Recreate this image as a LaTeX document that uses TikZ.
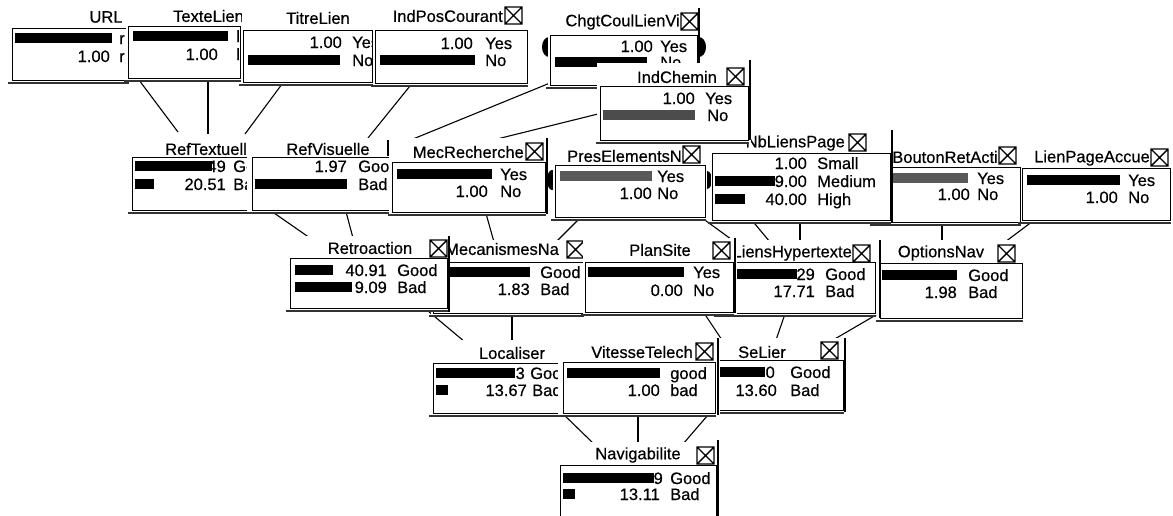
\documentclass[tikz,border=0pt]{standalone}
\usepackage{fontspec}
\setmainfont{Liberation Sans}
\newfontfamily\scanfont{Liberation Sans}[FakeBold=0.5]
\usetikzlibrary{calc}
\pgfdeclarelayer{bg}
\pgfsetlayers{bg,main}
\newcounter{tn}
\tikzset{
  bx/.style={draw, fill=white, line width=0.9pt, inner sep=0pt, outer sep=0pt},
  txt/.style={inner sep=0pt, font=\scanfont\fontsize{16.5}{18}\selectfont},
  edge/.style={line width=1.1pt},
  icon/.style={line width=1.4pt},
  shd/.style={line width=1.2pt, black!80},
  rln/.style={line width=1.1pt},
}
% name rx1 rx2 rtop bx1 bx2 btop bot
\newcommand\qbn[8]{%
  \fill[white] (#2,#4) rectangle (#3,#8+2);
  \draw[shd] (#5-4,#8+3) -- (#6+1,#8+3);
  \node[bx, minimum width=#6-#5, minimum height=#8-#7, anchor=north west] (#1) at (#5,#7) {};
}
\newcommand\qpb[4][black]{\fill[#1] (#2,#4-5) rectangle (#3,#4+5);}
\newcommand\qnm[3]{\stepcounter{tn}\node[txt,anchor=base east] (t\arabic{tn}) at (#1,#2+6) {#3};}
\newcommand\qlb[3]{\stepcounter{tn}\node[txt,anchor=base west] (t\arabic{tn}) at (#1,#2+6) {#3};}
\newcommand\qtc[3]{\stepcounter{tn}\node[txt] (t\arabic{tn}) at (#1,#2) {#3};}
\newcommand\qte[3]{\stepcounter{tn}\node[txt,anchor=east] (t\arabic{tn}) at (#1,#2) {#3};}
\newcommand\qtw[3]{\stepcounter{tn}\node[txt,anchor=west] (t\arabic{tn}) at (#1,#2) {#3};}
\newcommand\qxi[2]{\draw[icon] (#1,#2) rectangle ++(17,17) (#1,#2) -- ++(17,17) (#1+17,#2) -- ++(-17,17);}
\newcommand\qrl[3]{\draw[rln] (#1,#2) -- (#1,#3);}

\begin{document}
\begin{tikzpicture}[x=1pt,y=-1pt]
\useasboundingbox (0,0) rectangle (1173,515);
\begin{pgfonlayer}{bg}
\fill[white] (0,0) rectangle (1173,515);
\end{pgfonlayer}

% ---------- middle row ----------
\qbn{reftx}{130}{251}{138}{132}{250}{157}{210}
\qtc{206}{149}{RefTextuell}
\qpb{135}{212}{166} \qnm{226}{166}{49} \qlb{233}{166}{Good}
\qpb{135}{154}{184} \qnm{226}{184}{20.51} \qlb{233}{184}{Bad}

\qbn{refvi}{247}{391}{138}{252}{390}{157}{210}
\qtc{328}{149}{RefVisuelle} \qrl{388}{140}{156}
\qnm{347}{166}{1.97} \qlb{358}{166}{Good}
\qpb{255}{347}{184} \qlb{358}{184}{Bad}

\qbn{mecre}{389}{549}{138}{392}{545}{162}{212}
\qte{524}{152}{MecRecherche} \qxi{526}{143} \qrl{547}{138}{214}
\qpb{397}{492}{174} \qlb{500}{174}{Yes}
\qnm{488}{191}{1.00} \qlb{500}{191}{No}

\fill (552,180) ellipse (5 and 10);
\fill (707,180) ellipse (5 and 9);
\qbn{pres}{553}{707}{141}{555}{705}{165}{217}
\qte{682}{156}{PresElementsN} \qxi{683}{146}
\qpb[black!65]{560}{652}{176} \qlb{657}{176}{Yes}
\qnm{652}{193}{1.00} \qlb{657}{193}{No}

\qbn{bouton}{872}{1021}{142}{874}{1020}{167}{222}
\qte{998}{157}{BoutonRetActi} \qxi{999}{147}
\qpb[black!65]{877}{968}{178} \qlb{977}{178}{Yes}
\qnm{970}{194}{1.00} \qlb{977}{194}{No}

\qbn{nbl}{711}{893}{128}{712}{890}{153}{220}
\qte{845}{143}{NbLiensPage} \qxi{849}{134} \qrl{892}{130}{222}
\qnm{807}{163}{1.00} \qlb{817}{163}{Small}
\qpb{715}{775}{181} \qnm{807}{181}{9.00} \qlb{817}{181}{Medium}
\qpb{715}{745}{199} \qnm{807}{199}{40.00} \qlb{817}{199}{High}

\qbn{lienpa}{1021}{1173}{145}{1022}{1170}{168}{220}
\qte{1150}{158}{LienPageAccue} \qxi{1151}{149}
\qpb{1027}{1120}{180} \qlb{1128}{180}{Yes}
\qnm{1118}{197}{1.00} \qlb{1128}{197}{No}

% ---------- top row ----------
\qbn{url}{10}{130}{5}{12}{128}{28}{80}
\qtc{106}{17}{URL}
\qpb{15}{112}{38} \qlb{119}{38}{r}
\qnm{110}{56}{1.00} \qlb{119}{56}{r}

\qbn{texte}{126}{242}{3}{128}{240}{26}{78}
\qte{244}{16}{TexteLien}
\qpb{133}{228}{36} \qlb{236}{36}{l}
\qnm{218}{54}{1.00} \qlb{236}{54}{l}

\qbn{titre}{242}{375}{5}{243}{372}{30}{82}
\qtc{318}{18}{TitreLien} \qrl{374}{7}{82}
\qnm{342}{42}{1.00} \qlb{352}{42}{Yes}
\qpb{248}{340}{60} \qlb{352}{60}{No}

\qbn{indpos}{373}{529}{3}{375}{527}{30}{83}
\qte{503}{16}{IndPosCourant} \qxi{505}{7}
\qnm{473}{43}{1.00} \qlb{485}{43}{Yes}
\qpb{380}{475}{60} \qlb{485}{60}{No}

\fill (549,47) ellipse (7 and 10);
\fill (699,47) ellipse (7 and 10);
\qbn{chgt}{548}{700}{8}{550}{697}{35}{85}
\qte{680}{22}{ChgtCoulLienVi} \qxi{681}{13} \qrl{699}{8}{85}
\qnm{653}{46}{1.00} \qlb{660}{46}{Yes}
\qpb{555}{647}{62} \qlb{660}{62}{No}

\qbn{indch}{597}{751}{63}{600}{748}{86}{140}
\qtc{677}{77}{IndChemin} \qxi{727}{68} \qrl{750}{60}{140}
\qnm{695}{98}{1.00} \qlb{705}{98}{Yes}
\qpb[black!70]{603}{695}{115} \qlb{707}{115}{No}

% ---------- row 3 ----------
\qbn{mecna}{431}{584}{240}{433}{583}{262}{313}
\qtw{445}{249}{MecanismesNa} \qxi{567}{241}
\qpb{436}{530}{272} \qlb{540}{272}{Good}
\qnm{530}{289}{1.83} \qlb{540}{289}{Bad}

\qbn{retro}{286}{450}{236}{290}{447}{258}{308}
\qtc{370}{248}{Retroaction} \qxi{430}{240} \qrl{449}{236}{312}
\qpb{295}{333}{270} \qnm{387}{270}{40.91} \qlb{397}{270}{Good}
\qpb{295}{352}{287} \qnm{387}{287}{9.09} \qlb{397}{287}{Bad}

\qbn{liens}{716}{878}{240}{718}{875}{262}{313}
\qte{852}{253}{LiensHypertexte} \qxi{853}{245}
\qpb{721}{797}{274} \qnm{815}{274}{29} \qlb{825}{274}{Good}
\qnm{815}{291}{17.71} \qlb{825}{291}{Bad}

\qbn{opt}{878}{1024}{240}{880}{1022}{263}{318}
\qtc{941}{253}{OptionsNav} \qxi{998}{245} \qrl{880}{240}{318}
\qpb{882}{957}{275} \qlb{968}{275}{Good}
\qnm{957}{292}{1.98} \qlb{968}{292}{Bad}

\qbn{plan}{583}{737}{238}{585}{733}{262}{312}
\qtc{660}{250}{PlanSite} \qxi{713}{242} \qrl{735}{238}{313}
\qpb{588}{684}{272} \qlb{693}{272}{Yes}
\qnm{683}{290}{0.00} \qlb{693}{290}{No}

% ---------- row 4 ----------
\qbn{loc}{431}{582}{340}{433}{580}{363}{413}
\qtc{512}{353}{Localiser}
\qpb{436}{515}{373} \qnm{525}{373}{3} \qlb{530}{373}{Good}
\qpb{436}{448}{390} \qnm{527}{390}{13.67} \qlb{532}{390}{Bad}

\qbn{selier}{681}{847}{338}{683}{843}{360}{410}
\qtc{762}{352}{SeLier} \qxi{821}{342} \qrl{845}{338}{412}
\qpb{686}{765}{372} \qnm{775}{372}{0} \qlb{790}{372}{Good}
\qnm{777}{390}{13.60} \qlb{790}{390}{Bad}

\qbn{vit}{558}{720}{338}{563}{715}{362}{413}
\qte{693}{352}{VitesseTelech} \qxi{696}{343} \qrl{718}{338}{415}
\qpb{567}{660}{373} \qlb{670}{373}{good}
\qnm{660}{390}{1.00} \qlb{670}{390}{bad}

% ---------- row 5 ----------
\qbn{nav}{557}{720}{442}{560}{716}{465}{522}
\qtc{638}{455}{Navigabilite} \qxi{697}{447} \qrl{718}{440}{520}
\qpb{563}{654}{478} \qnm{663}{478}{9} \qlb{670}{478}{Good}
\qpb{563}{575}{494} \qnm{660}{494}{13.11} \qlb{670}{494}{Bad}

% ---------- connector ends ----------
\coordinate (c1) at (178,132);
\coordinate (c2) at (208,134);
\coordinate (c3) at (245,134);
\coordinate (c4) at (368,138);
\coordinate (c5) at (413,139);
\coordinate (c6) at (497,139);
\coordinate (c7) at (310,238);
\coordinate (c8) at (353,238);
\coordinate (c9) at (494,242);
\coordinate (c10) at (556,242);
\coordinate (c11) at (735,242);
\coordinate (c12) at (770,242);
\coordinate (c13) at (800,242);
\coordinate (c14) at (942,242);
\coordinate (c15) at (1005,242);
\coordinate (c16) at (465,342);
\coordinate (c17) at (512,342);
\coordinate (c18) at (722,340);
\coordinate (c19) at (776,340);
\coordinate (c20) at (833,340);
\coordinate (c21) at (594,444);
\coordinate (c22) at (638,444);
\coordinate (c23) at (683,444);

\begin{pgfonlayer}{bg}
\draw[edge] ([xshift=124pt,yshift=4pt]url.south west) -- (c1);
\draw[edge] ([xshift=80pt,yshift=2pt]texte.south west) -- (c2);
\draw[edge] ([xshift=42pt,yshift=2pt]titre.south west) -- (c3);
\draw[edge] ([xshift=39pt,yshift=2pt]indpos.south west) -- (c4);
\draw[edge] ([xshift=0pt,yshift=2pt]chgt.south west) -- (c5);
\draw[edge] ([xshift=2pt,yshift=27pt]indch.south west) -- (c6);
\draw[edge] ([xshift=132pt,yshift=4pt]reftx.south west) -- (c7);
\draw[edge] ([xshift=93pt,yshift=2pt]refvi.south west) -- (c8);
\draw[edge] ([xshift=93pt,yshift=2pt]mecre.south west) -- (c9);
\draw[edge] ([xshift=28pt,yshift=2pt]pres.south west) -- (c10);
\draw[edge] ([xshift=143pt,yshift=2pt]pres.south west) -- (c11);
\draw[edge] ([xshift=38pt,yshift=2pt]nbl.south west) -- (c12);
\draw[edge] ([xshift=88pt,yshift=2pt]nbl.south west) -- (c13);
\draw[edge] ([xshift=68pt,yshift=2pt]bouton.south west) -- (c14);
\draw[edge] ([xshift=15pt,yshift=2pt]lienpa.south west) -- (c15);
\draw[edge] ([xshift=132pt,yshift=2pt]retro.south west) -- (c16);
\draw[edge] ([xshift=79pt,yshift=2pt]mecna.south west) -- (c17);
\draw[edge] ([xshift=117pt,yshift=2pt]plan.south west) -- (c18);
\draw[edge] ([xshift=68pt,yshift=2pt]liens.south west) -- (c19);
\draw[edge] ([xshift=13pt,yshift=13pt]opt.south west) -- (c20);
\draw[edge] ([xshift=127pt,yshift=2pt]loc.south west) -- (c21);
\draw[edge] ([xshift=75pt,yshift=2pt]vit.south west) -- (c22);
\draw[edge] ([xshift=31pt,yshift=2pt]selier.south west) -- (c23);
\end{pgfonlayer}
\end{tikzpicture}
\end{document}
